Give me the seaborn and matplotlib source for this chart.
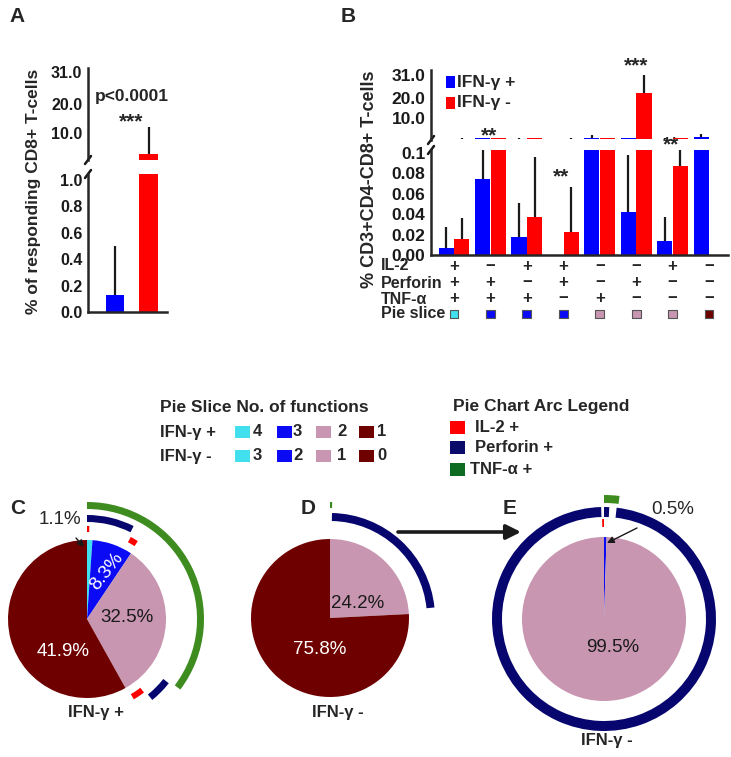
import matplotlib
matplotlib.use("Agg")
import matplotlib.pyplot as plt
from matplotlib import transforms
from matplotlib.patches import Wedge, Rectangle
import pandas as pd
import seaborn as sns

W, H = 731, 757

# ---------------------------------------------------------------- data
A_GROUPS = ["IFN-γ +", "IFN-γ -"]
A_MEANS = [0.13, 3.0]
A_ERRS = [0.37, 9.0]

IFN_LEVELS = ["IFN-γ +", "IFN-γ -"]
B_COMBOS = ["+++", "-++", "+-+", "++-", "--+", "-+-", "+--", "---"]
B_POS_MEANS = [0.007, 0.075, 0.018, 0.0, 0.5, 0.042, 0.014, 0.6]
B_POS_ERRS = [0.020, 0.060, 0.033, 0.0, 1.0, 0.056, 0.023, 1.5]
B_NEG_MEANS = [0.016, 0.5, 0.037, 0.023, 0.5, 22.0, 0.087, 0.0]
B_NEG_ERRS = [0.020, 0.0, 0.059, 0.044, 0.0, 9.0, 0.030, 0.0]
B_STARS = ["", "**", "", "**", "", "***", "**", ""]

ROW_IL2 = ["+", "-", "+", "+", "-", "-", "+", "-"]
ROW_PERF = ["+", "+", "-", "+", "-", "+", "-", "-"]
ROW_TNF = ["+", "+", "+", "-", "+", "-", "-", "-"]
ROW_SLICE = ["cyan", "blue", "blue", "blue", "pink", "pink", "pink", "dark"]

# pie slices (% of circle, clockwise from 12 o'clock)
C_VALUES = [1.1, 8.3, 32.5, 58.1]
C_KEYS = ["cyan", "blue", "pink", "dark"]
C_LABELS = ["1.1%", "8.3%", "32.5%", "41.9%"]
D_VALUES = [24.2, 75.8]
D_KEYS = ["pink", "dark"]
D_LABELS = ["24.2%", "75.8%"]
E_VALUES = [0.5, 99.5]
E_KEYS = ["blue", "pink"]
E_LABELS = ["0.5%", "99.5%"]

# arcs (start %, end %) around each pie
C_ARCS = {"IL-2": [(0.0, 0.4), (7.8, 9.2), (39.5, 41.6)],
          "Perforin": [(0.0, 7.4), (35.6, 39.2)],
          "TNF": [(0.0, 35.3)]}
D_ARCS = {"Perforin": [(0.3, 23.4)],
          "TNF": [(0.0, 0.3)]}
E_ARCS = {"IL-2": [(-0.3, 0.0)],
          "Perforin": [(0.0, 0.75), (1.8, 99.6)],
          "TNF": [(0.0, 2.0)]}

# ---------------------------------------------------------------- style
BLUE, RED = "#0000FF", "#FF0000"
SLICE_COL = {"cyan": "#40E0EE", "blue": "#0A0AF5", "pink": "#C896B0", "dark": "#6E0000"}
ARC_COL = {"IL-2": "#FF0000", "Perforin": "#06066E", "TNF": "#3E8C20"}
LEG_ARC_COL = {"IL-2": "#FF0000", "Perforin": "#0A0A6A", "TNF": "#0E6B22"}

sns.set_theme(style="white")
plt.rcParams["font.family"] = ["Liberation Sans", "DejaVu Sans"]
plt.rcParams["font.weight"] = "bold"
plt.rcParams["axes.linewidth"] = 1.8

fig = plt.figure(figsize=(W / 100, H / 100), dpi=100)
ov = fig.add_axes([0, 0, 1, 1])
ov.axis("off")


def Y(y):
    return H - y


def box(left, top, right, bottom):
    return [left / W, (H - bottom) / H, (right - left) / W, (bottom - top) / H]


def style_axis(ax, size):
    sns.despine(ax=ax)
    ax.tick_params(axis="both", direction="out", length=3, width=1.8, pad=1,
                   labelsize=size, colors="k")
    ax.set_xlabel("")
    ax.set_ylabel("")
    ax.set_facecolor("none")


def break_mark(ax, at_top):
    bb = ax.get_position()
    dx, dy = 3 / (bb.width * W), 4 / (bb.height * H)
    y0 = 1 if at_top else 0
    ax.plot([-dx, dx], [y0 - dy, y0 + dy], transform=ax.transAxes,
            color="k", lw=1.8, clip_on=False)


def add_errors(ax, bars, errs):
    for bar, e in zip(bars, errs):
        if e > 0:
            xc = bar.get_x() + bar.get_width() / 2
            ax.errorbar(xc, bar.get_height(), yerr=[[0], [e]], fmt="none",
                        ecolor="k", elinewidth=1.6, capsize=0)


# ---------------------------------------------------------------- panel A
df_a = pd.DataFrame({"grp": A_GROUPS, "pct": A_MEANS})
axA_hi = fig.add_axes(box(88, 68, 167, 160))
axA_lo = fig.add_axes(box(88, 174, 167, 312))
for ax in (axA_hi, axA_lo):
    sns.barplot(data=df_a, x="grp", y="pct", hue="grp", palette=[BLUE, RED],
                width=0.56, saturation=1, errorbar=None, legend=False,
                linewidth=0, ax=ax)
    add_errors(ax, ax.patches, A_ERRS)
    ax.set_xlim(-0.81, 1.55)
    style_axis(ax, 11.5)
axA_hi.set_ylim(0.9, 32.3)
axA_hi.set_yticks([10, 20, 31], ["10.0", "20.0", "31.0"])
axA_hi.spines["bottom"].set_visible(False)
axA_hi.set_xticks([])
axA_lo.set_ylim(0, 1.045)
axA_lo.set_yticks([0, 0.2, 0.4, 0.6, 0.8, 1.0],
                  ["0.0", "0.2", "0.4", "0.6", "0.8", "1.0"])
axA_lo.set_xticks([1.55], [""])
break_mark(axA_hi, False)
break_mark(axA_lo, True)

# ---------------------------------------------------------------- panel B
df_b = pd.DataFrame({
    "combo": B_COMBOS * 2,
    "ifn": [IFN_LEVELS[0]] * 8 + [IFN_LEVELS[1]] * 8,
    "pct": B_POS_MEANS + B_NEG_MEANS,
})
axB_hi = fig.add_axes(box(431, 70, 728, 140))
axB_lo = fig.add_axes(box(431, 150, 728, 255))
for ax in (axB_hi, axB_lo):
    sns.barplot(data=df_b, x="combo", y="pct", hue="ifn", order=B_COMBOS,
                hue_order=IFN_LEVELS, palette=[BLUE, RED], width=0.86, gap=0.04,
                saturation=1, errorbar=None, legend=False, linewidth=0, ax=ax)
    for cont, errs in zip(ax.containers, [B_POS_ERRS, B_NEG_ERRS]):
        add_errors(ax, cont, errs)
    ax.set_xlim(-0.63, 7.52)
    style_axis(ax, 12.5)
axB_hi.set_ylim(-0.7, 33.4)
axB_hi.set_yticks([10, 20, 31], ["10.0", "20.0", "31.0"])
axB_hi.spines["bottom"].set_visible(False)
axB_hi.set_xticks([])
axB_lo.set_ylim(0, 0.103)
axB_lo.set_yticks([0, 0.02, 0.04, 0.06, 0.08, 0.1],
                  ["0.00", "0.02", "0.04", "0.06", "0.08", "0.1"])
axB_lo.set_xticks([i + 0.5 for i in range(len(B_COMBOS))],
                  [""] * len(B_COMBOS))
axB_lo.tick_params(axis="x", length=4)
break_mark(axB_hi, False)
break_mark(axB_lo, True)

# significance stars
star_y = {1: 136, 3: 177, 5: 66, 6: 145}
xb = transforms.blended_transform_factory(axB_lo.transData, ov.transData)
for i, s in enumerate(B_STARS):
    if s:
        ov.text(i + (-0.05 if i != 5 else 0.0), Y(star_y[i]), s, transform=xb,
                ha="center", va="center", fontsize=15)

# legend in B
for k, (lab, col) in enumerate(zip(IFN_LEVELS, [BLUE, RED])):
    ov.add_patch(Rectangle((446, Y(88 + 21 * k)), 9, 12, color=col, lw=0))
    ov.text(457, Y(82 + 21 * k), lab, ha="left", va="center", fontsize=12.5)

# combination table under B
rows = [("IL-2", ROW_IL2, 266), ("Perforin", ROW_PERF, 283), ("TNF-α", ROW_TNF, 299)]
for name, signs, yy in rows:
    ov.text(381, Y(yy), name, ha="left", va="center", fontsize=11.5)
    for i, s in enumerate(signs):
        ov.text(i, Y(yy), "+" if s == "+" else "−", transform=xb,
                ha="center", va="center", fontsize=12)
ov.text(381, Y(314), "Pie slice", ha="left", va="center", fontsize=11.5)
ov.scatter(range(len(ROW_SLICE)), [Y(314)] * len(ROW_SLICE),
           c=[SLICE_COL[k] for k in ROW_SLICE], marker="s", s=40,
           edgecolors="#555555", linewidths=0.8, transform=xb, clip_on=False)

# A texts
ov.text(132, Y(97), "p<0.0001", ha="center", va="center", fontsize=12.5)
ov.text(131, Y(122), "***", ha="center", va="center", fontsize=15)
ov.text(34, Y(191), "% of responding CD8+ T-cells", rotation=90,
        ha="center", va="center", fontsize=12.5)
ov.text(369, Y(179), "% CD3+CD4-CD8+ T-cells", rotation=90,
        ha="center", va="center", fontsize=13)

# panel letters
for letter, (lx, ly) in zip("ABCDE", [(17, 17), (348, 17), (18, 509),
                                      (308, 508), (510, 508)]):
    ov.text(lx, Y(ly), letter, ha="center", va="center", fontsize=15)

# ---------------------------------------------------------------- legends
ov.text(160, Y(407), "Pie Slice No. of functions", ha="left", va="center",
        fontsize=12.5)
slice_leg = [("cyan", "4", "3"), ("blue", "3", "2"), ("pink", "2", "1"),
             ("dark", "1", "0")]
sq_x = [235, 277, 316, 359]
txt_x = [253, 293, 337, 377]
for r, (lab, yy) in enumerate([("IFN-γ +", 432), ("IFN-γ -", 456)]):
    ov.text(160, Y(yy), lab, ha="left", va="center", fontsize=12)
    for (key, n_pos, n_neg), sx, tx in zip(slice_leg, sq_x, txt_x):
        ov.add_patch(Rectangle((sx, Y(yy + 6)), 15, 12, color=SLICE_COL[key], lw=0))
        ov.text(tx, Y(yy), n_pos if r == 0 else n_neg, ha="left",
                va="center", fontsize=12)

ov.text(453, Y(406), "Pie Chart Arc Legend", ha="left", va="center", fontsize=12.5)
for (key, lab, tx), yy in zip([("IL-2", "IL-2 +", 475), ("Perforin", "Perforin +", 475),
                               ("TNF", "TNF-α +", 470)], [428, 448, 470]):
    ov.add_patch(Rectangle((450, Y(yy + 6)), 15, 13, color=LEG_ARC_COL[key], lw=0))
    ov.text(tx, Y(yy), lab, ha="left", va="center", fontsize=12)

# ---------------------------------------------------------------- pies
RINGS = {
    "C": ((87, 619), 79, {"IL-2": (93, 6), "Perforin": (104, 7), "TNF": (117, 7)}),
    "D": ((330, 618), 79, {"Perforin": (105, 8), "TNF": (116, 6)}),
    "E": ((604, 619), 82, {"IL-2": (100, 8), "Perforin": (112, 10), "TNF": (124, 8)}),
}
PIES = {"C": (C_VALUES, C_KEYS, C_ARCS), "D": (D_VALUES, D_KEYS, D_ARCS),
        "E": (E_VALUES, E_KEYS, E_ARCS)}

for name, (vals, keys, arcs) in PIES.items():
    (cx, cy), r, rings = RINGS[name]
    ov.pie(vals, colors=[SLICE_COL[k] for k in keys], startangle=90,
           counterclock=False, center=(cx, Y(cy)), radius=r, frame=True,
           wedgeprops=dict(linewidth=0))
    for func, spans in arcs.items():
        r_out, w = rings[func]
        for p1, p2 in spans:
            ov.add_patch(Wedge((cx, Y(cy)), r_out, 90 - p2 * 3.6, 90 - p1 * 3.6,
                               width=w, color=ARC_COL[func], lw=0))

# pie labels
ov.text(127, Y(617), C_LABELS[2], ha="center", va="center", fontsize=13.5,
        fontweight="normal", color="k")
ov.text(63, Y(652), C_LABELS[3], ha="center", va="center", fontsize=13.5,
        fontweight="normal", color="w")
ov.text(107, Y(571), C_LABELS[1], ha="center", va="center", fontsize=13.5,
        fontweight="normal", color="w", rotation=52)
ov.annotate(C_LABELS[0], xy=(84, Y(547)), xytext=(60, Y(520)), ha="center",
            va="center", fontsize=13.5, fontweight="normal",
            arrowprops=dict(arrowstyle="-|>", color="k", lw=1, shrinkA=6,
                            shrinkB=0, mutation_scale=10))
ov.text(358, Y(603), D_LABELS[0], ha="center", va="center", fontsize=13.5,
        fontweight="normal", color="k")
ov.text(320, Y(650), D_LABELS[1], ha="center", va="center", fontsize=13.5,
        fontweight="normal", color="w")
ov.text(613, Y(647), E_LABELS[1], ha="center", va="center", fontsize=13.5,
        fontweight="normal", color="k")
ov.annotate(E_LABELS[0], xy=(607, Y(543)), xytext=(673, Y(510)), ha="center",
            va="center", fontsize=13.5, fontweight="normal",
            arrowprops=dict(arrowstyle="-|>", color="k", lw=1, shrinkA=10,
                            shrinkB=0, mutation_scale=10))
ov.annotate("", xy=(521, Y(532)), xytext=(398, Y(532)),
            arrowprops=dict(arrowstyle="-|>", color="k", lw=2.6, shrinkA=0,
                            shrinkB=0, mutation_scale=22))

ov.text(96, Y(712), "IFN-γ +", ha="center", va="center", fontsize=12)
ov.text(338, Y(713), "IFN-γ -", ha="center", va="center", fontsize=12)
ov.text(607, Y(740), "IFN-γ -", ha="center", va="center", fontsize=12)

ov.set_aspect("auto")
ov.set_xlim(0, W)
ov.set_ylim(0, H)

fig.savefig("out.png", dpi=100)
